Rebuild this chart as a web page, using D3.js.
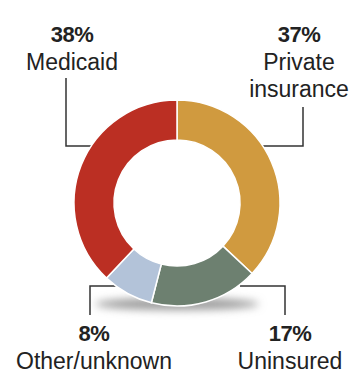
<!DOCTYPE html>
<html><head><meta charset="utf-8">
<script src="https://cdn.jsdelivr.net/npm/d3@7"></script>
<style>html,body{margin:0;padding:0;background:#fff;}svg{display:block;}</style>
</head><body>
<svg id="c" width="354" height="376"></svg>
<script>
const categories = ["Private insurance", "Uninsured", "Other/unknown", "Medicaid"];
const values = [37, 17, 8, 38];
const colors = ["#d09a3f", "#6d8070", "#b3c3d9", "#bb2f23"];
const pctLabels = ["37%", "17%", "8%", "38%"];

const svg = d3.select("#c");
const cx = 177, cy = 203, rOuter = 103, rInner = 63;

const defs = svg.append("defs");
defs.append("filter").attr("id","blur").attr("x","-50%").attr("y","-200%").attr("width","200%").attr("height","500%")
  .append("feGaussianBlur").attr("stdDeviation", 4);

// shadow
svg.append("ellipse").attr("cx", cx).attr("cy", 304).attr("rx", 82).attr("ry", 6)
  .attr("fill", "#9a9a9a").attr("filter", "url(#blur)");

// leader lines
const lc = "#333";
const lines = [
  [[66,78],[66,146],[94,146]],
  [[303,107],[303,146],[262,146]],
  [[90,315],[90,286],[116,286]],
  [[285,315],[285,286],[240,286]]
];
lines.forEach(p => svg.append("path").attr("d", d3.line()(p)).attr("fill","none").attr("stroke",lc).attr("stroke-width",1.5));

const pie = d3.pie().sort(null).value(d => d)(values);
const arc = d3.arc().innerRadius(rInner).outerRadius(rOuter);
svg.append("g").attr("transform", `translate(${cx},${cy})`)
  .selectAll("path").data(pie).join("path")
  .attr("d", arc).attr("fill", (d,i) => colors[i])
  .attr("stroke", "#fff").attr("stroke-width", 1.5);

const font = "'Liberation Sans', Arial, sans-serif";
function label(x, yPct, pct, lines) {
  svg.append("text").attr("x", x).attr("y", yPct).attr("text-anchor","middle")
    .attr("font-family", font).attr("font-weight","bold").attr("font-size", 22)
    .attr("fill","#222").attr("letter-spacing", -0.5).text(pct);
  lines.forEach((t, k) => svg.append("text").attr("x", x).attr("y", yPct + 28 + k*27)
    .attr("text-anchor","middle").attr("font-family", font).attr("font-size", 23)
    .attr("fill","#222").text(t));
}
label(72, 42, pctLabels[3], ["Medicaid"]);
label(299, 42, pctLabels[0], ["Private", "insurance"]);
label(94, 341, pctLabels[2], ["Other/unknown"]);
label(290, 341, pctLabels[1], ["Uninsured"]);
</script>
</body></html>
